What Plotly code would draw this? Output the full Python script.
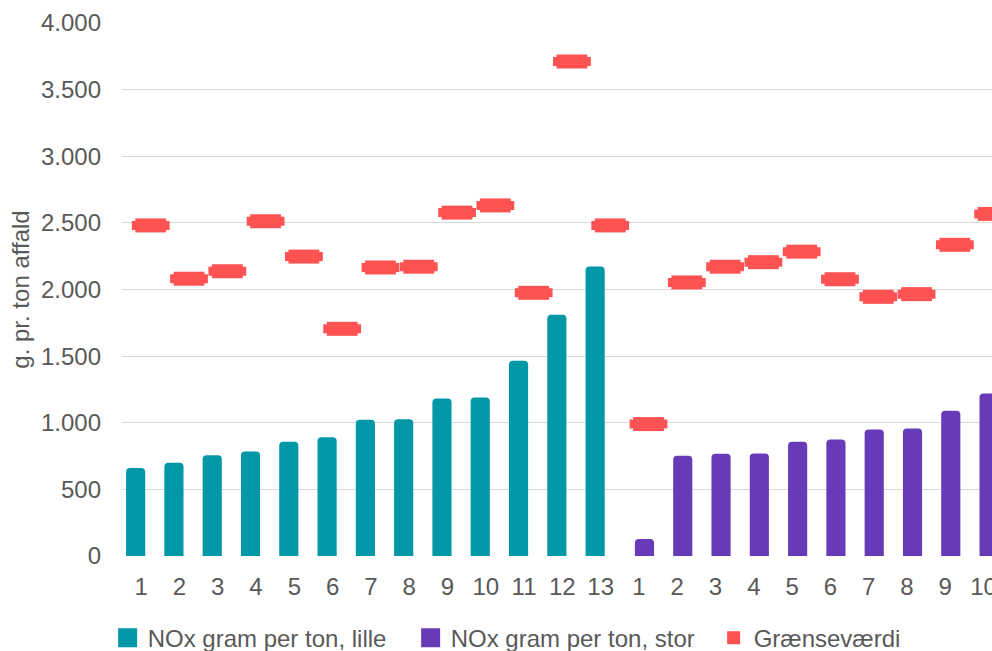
import plotly.graph_objects as go

# ---- data ----
small_labels = ["1", "2", "3", "4", "5", "6", "7", "8", "9", "10", "11", "12", "13"]
large_labels = ["1", "2", "3", "4", "5", "6", "7", "8", "9", "10"]
nox_small = [660, 700, 757, 785, 857, 892, 1022, 1027, 1182, 1190, 1465, 1810, 2172]
nox_large = [127, 752, 767, 770, 857, 875, 950, 957, 1090, 1220]
limit_small = [2481, 2081, 2137, 2512, 2247, 1705, 2165, 2171, 2577, 2631, 1975, 3711, 2481]
limit_large = [990, 2053, 2171, 2205, 2284, 2077, 1945, 1965, 2335, 2567]
y_ticks = [0, 500, 1000, 1500, 2000, 2500, 3000, 3500, 4000]
y_tick_labels = ["0", "500", "1.000", "1.500", "2.000", "2.500", "3.000", "3.500", "4.000"]

series_names = ["NOx gram per ton, lille", "NOx gram per ton, stor", "Grænseværdi"]
TEAL = "#0097A7"
PURPLE = "#673AB7"
RED = "#FF5252"
TEXT = "#595959"
FONT = "Liberation Sans, Arial, sans-serif"
FS = 24

n_small = len(small_labels)
idx_small = list(range(n_small))
idx_large = [n_small + i for i in range(len(large_labels))]
all_idx = idx_small + idx_large
all_labels = small_labels + large_labels
all_limits = limit_small + limit_large

BAR_SHIFT = 0.144
MARK_SHIFT = 0.25

fig = go.Figure()
fig.add_trace(go.Bar(
    x=[i - BAR_SHIFT for i in idx_small], y=nox_small, width=0.5,
    marker=dict(color=TEAL, line=dict(width=0), cornerradius=4),
    name=series_names[0], showlegend=False,
))
fig.add_trace(go.Bar(
    x=[i + BAR_SHIFT for i in idx_large], y=nox_large, width=0.5,
    marker=dict(color=PURPLE, line=dict(width=0), cornerradius=4),
    name=series_names[1], showlegend=False,
))
# limit markers: two overlapping bar-shaped marks give softened corners
mark_x = [i + MARK_SHIFT for i in all_idx]
fig.add_trace(go.Scatter(
    x=mark_x, y=all_limits, mode="markers",
    marker=dict(symbol="line-ew", size=27, color=RED, line=dict(color=RED, width=9)),
    name=series_names[2], showlegend=False, hoverinfo="skip",
))
fig.add_trace(go.Scatter(
    x=mark_x, y=all_limits, mode="markers",
    marker=dict(symbol="line-ew", size=22, color=RED, line=dict(color=RED, width=14)),
    name=series_names[2], showlegend=False,
))
# legend entries
fig.add_trace(go.Scatter(x=[None], y=[None], mode="markers", name=series_names[0],
                         marker=dict(symbol="square", size=16, color=TEAL, line=dict(color=TEAL, width=3))))
fig.add_trace(go.Scatter(x=[None], y=[None], mode="markers", name=series_names[1],
                         marker=dict(symbol="square", size=16, color=PURPLE, line=dict(color=PURPLE, width=3))))
fig.add_trace(go.Scatter(x=[None], y=[None], mode="markers", name=series_names[2],
                         marker=dict(symbol="square", size=11, color=RED, line=dict(color=RED, width=2))))

fig.update_layout(
    width=992, height=651,
    margin=dict(l=122, r=0, t=23, b=95, autoexpand=False),
    paper_bgcolor="white", plot_bgcolor="white",
    font=dict(family=FONT, size=FS, color=TEXT),
    barmode="overlay",
    legend=dict(orientation="h", x=-0.0165, xanchor="left", y=-0.112, yanchor="top",
                font=dict(family=FONT, size=FS, color=TEXT), entrywidth=258,
                itemclick=False, bgcolor="rgba(0,0,0,0)"),
    xaxis=dict(range=[-0.5, 22.22], tickvals=all_idx, ticktext=all_labels,
               showgrid=False, zeroline=False, showline=False, ticks="",
               ticklabelstandoff=14, ticklabeloverflow="allow",
               tickfont=dict(size=FS, color=TEXT)),
    yaxis=dict(range=[0, 4000], tickvals=y_ticks, ticktext=y_tick_labels,
               showgrid=True, gridcolor="#D9D9D9", gridwidth=1, zeroline=False,
               showline=False, ticks="", ticklabelstandoff=20,
               tickfont=dict(size=FS, color=TEXT),
               title=dict(text="g. pr. ton affald", font=dict(size=FS, color=TEXT), standoff=4)),
    showlegend=True,
)

fig.write_html("out.html", config={"displayModeBar": False},
               post_script="document.body.style.margin='0';document.body.style.overflow='hidden';")
